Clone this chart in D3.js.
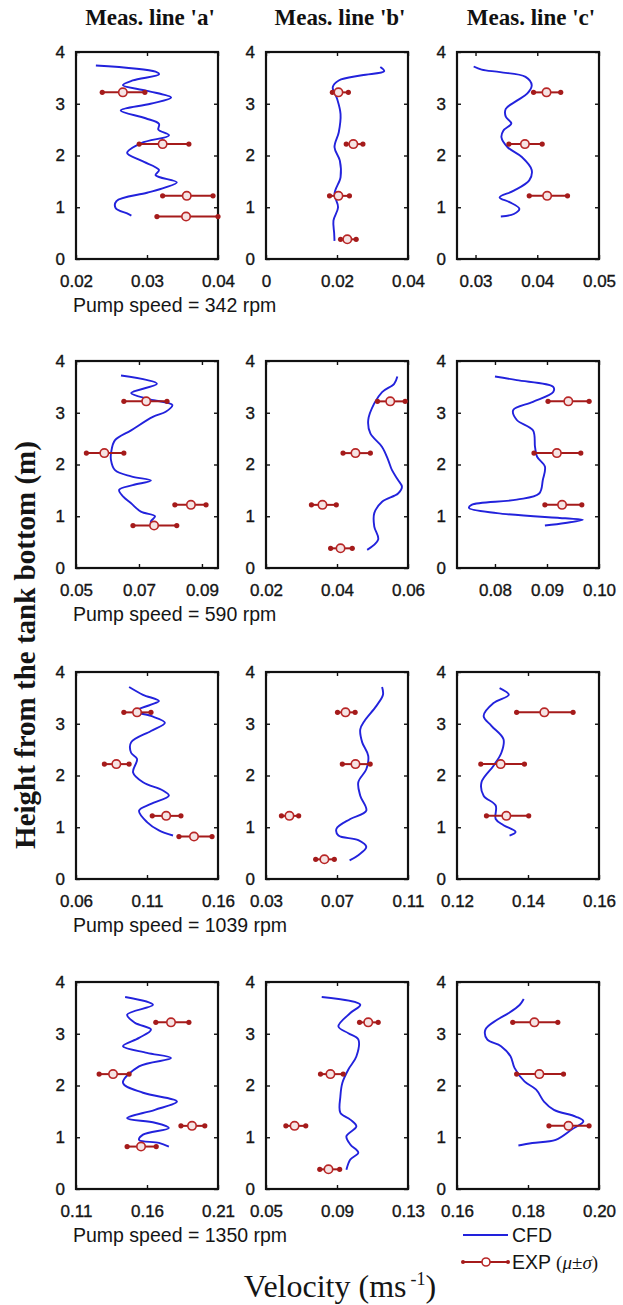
<!DOCTYPE html>
<html lang="en">
<head>
  <meta charset="UTF-8">
  <title>Velocity profiles</title>
  <script src="https://cdn.jsdelivr.net/npm/d3@7"></script>
  <style>
    * { margin: 0; padding: 0; }
    body { background: #fff; }
    svg { display: block; }
    .tick text { font-family: "Liberation Sans", Arial, sans-serif; font-size: 17px; fill: #151515; stroke: #151515; stroke-width: 0.35; }
    .tick line { stroke: #111; stroke-width: 1.4; }
  </style>
</head>
<body>
<div id="chart"></div>
<script>
// rows = pump speed, columns = measurement line
var pumpSpeeds = [342, 590, 1039, 1350];
var measLines = ["a", "b", "c"];
var heightTicks = [0, 1, 2, 3, 4];

// x domains per panel
var xDomains = [
  [[0.02, 0.04], [0, 0.04], [0.027, 0.05]],
  [[0.05, 0.0951], [0.02, 0.06], [0.0727, 0.1]],
  [[0.06, 0.16], [0.03, 0.11], [0.12, 0.16]],
  [[0.11, 0.21], [0.05, 0.13], [0.16, 0.20]]
];
var xTicks = [
  [[0.02, 0.03, 0.04], [0, 0.02, 0.04], [0.03, 0.04, 0.05]],
  [[0.05, 0.07, 0.09], [0.02, 0.04, 0.06], [0.08, 0.09, 0.10]],
  [[0.06, 0.11, 0.16], [0.03, 0.07, 0.11], [0.12, 0.14, 0.16]],
  [[0.11, 0.16, 0.21], [0.05, 0.09, 0.13], [0.16, 0.18, 0.20]]
];
var xTickLabels = [
  [["0.02", "0.03", "0.04"], ["0", "0.02", "0.04"], ["0.03", "0.04", "0.05"]],
  [["0.05", "0.07", "0.09"], ["0.02", "0.04", "0.06"], ["0.08", "0.09", "0.10"]],
  [["0.06", "0.11", "0.16"], ["0.03", "0.07", "0.11"], ["0.12", "0.14", "0.16"]],
  [["0.11", "0.16", "0.21"], ["0.05", "0.09", "0.13"], ["0.16", "0.18", "0.20"]]
];

// CFD profiles: [height (m), velocity (m/s)]
var cfd342a = [[3.74,0.0228],[3.62,0.0312],[3.57,0.0317],[3.45,0.0280],[3.36,0.0266],[3.25,0.0300],[3.12,0.0334],[3.00,0.0305],[2.87,0.0263],[2.72,0.0298],[2.61,0.0317],[2.50,0.0316],[2.39,0.0331],[2.24,0.0292],[2.05,0.0272],[1.90,0.0292],[1.72,0.0317],[1.62,0.0312],[1.48,0.0342],[1.38,0.0325],[1.28,0.0300],[1.12,0.0257],[0.98,0.0256],[0.88,0.0272],[0.84,0.0278]];
var cfd342b = [[3.71,0.0322],[3.63,0.0333],[3.55,0.0270],[3.45,0.0205],[3.32,0.0188],[3.10,0.0200],[2.80,0.0210],[2.45,0.0205],[2.16,0.0193],[1.90,0.0208],[1.58,0.0210],[1.26,0.0193],[1.00,0.0203],[0.74,0.0190],[0.50,0.0192],[0.35,0.0193]];
var cfd342c = [[3.72,0.0297],[3.66,0.0310],[3.61,0.0340],[3.52,0.0381],[3.36,0.0391],[3.20,0.0384],[3.06,0.0367],[2.90,0.0349],[2.75,0.0349],[2.62,0.0358],[2.48,0.0345],[2.35,0.0342],[2.16,0.0352],[1.97,0.0375],[1.72,0.0391],[1.52,0.0387],[1.32,0.0362],[1.19,0.0339],[1.10,0.0355],[0.97,0.0371],[0.87,0.0362],[0.82,0.0341]];
var cfd590a = [[3.72,0.0643],[3.56,0.0757],[3.38,0.0675],[3.26,0.0735],[3.15,0.0806],[3.02,0.0785],[2.92,0.0744],[2.66,0.0675],[2.47,0.0624],[2.25,0.0612],[2.09,0.0611],[1.89,0.0624],[1.77,0.0675],[1.69,0.0738],[1.60,0.0680],[1.51,0.0637],[1.38,0.0650],[1.25,0.0675],[1.09,0.0706],[1.00,0.0751],[0.90,0.0738],[0.83,0.0738]];
var cfd590b = [[3.70,0.0570],[3.56,0.0561],[3.40,0.0527],[3.18,0.0505],[2.86,0.0488],[2.60,0.0494],[2.34,0.0527],[2.09,0.0544],[1.89,0.0555],[1.70,0.0572],[1.57,0.0583],[1.44,0.0572],[1.28,0.0527],[1.06,0.0505],[0.80,0.0505],[0.55,0.0516],[0.35,0.0485]];
var cfd590c = [[3.70,0.0800],[3.63,0.0842],[3.50,0.0912],[3.40,0.0912],[3.21,0.0873],[3.05,0.0835],[2.86,0.0842],[2.66,0.0873],[2.34,0.0877],[2.15,0.0881],[1.96,0.0896],[1.70,0.0892],[1.44,0.0885],[1.32,0.0842],[1.22,0.0755],[1.16,0.0750],[1.06,0.0804],[0.96,0.0935],[0.93,0.0969],[0.87,0.0935],[0.82,0.0896]];
var cfd1039a = [[3.71,0.0974],[3.56,0.1072],[3.44,0.1184],[3.37,0.1128],[3.24,0.1016],[3.15,0.1128],[3.02,0.1226],[2.86,0.1128],[2.64,0.0988],[2.44,0.0988],[2.32,0.1030],[2.06,0.1002],[1.87,0.1072],[1.71,0.1212],[1.61,0.1254],[1.45,0.1128],[1.32,0.1044],[1.10,0.1100],[0.94,0.1184],[0.84,0.1283]];
var cfd1039b = [[3.71,0.0954],[3.56,0.0959],[3.34,0.0921],[3.05,0.0854],[2.89,0.0831],[2.64,0.0842],[2.38,0.0876],[2.12,0.0865],[1.87,0.0820],[1.61,0.0831],[1.32,0.0865],[1.16,0.0775],[0.97,0.0697],[0.84,0.0708],[0.75,0.0820],[0.62,0.0865],[0.46,0.0820],[0.36,0.0771]];
var cfd1039c = [[3.69,0.1320],[3.56,0.1346],[3.40,0.1303],[3.15,0.1275],[2.96,0.1297],[2.70,0.1331],[2.44,0.1325],[2.19,0.1303],[1.87,0.1269],[1.61,0.1275],[1.42,0.1309],[1.16,0.1309],[1.04,0.1331],[0.91,0.1365],[0.84,0.1348]];
var cfd1350a = [[3.71,0.1446],[3.56,0.1642],[3.37,0.1460],[3.21,0.1516],[3.08,0.1628],[2.92,0.1544],[2.76,0.1431],[2.63,0.1600],[2.53,0.1769],[2.37,0.1544],[2.05,0.1431],[1.86,0.1572],[1.69,0.1811],[1.53,0.1656],[1.37,0.1460],[1.28,0.1656],[1.18,0.1754],[1.05,0.1572],[0.95,0.1544],[0.89,0.1684],[0.82,0.1754]];
var cfd1350b = [[3.71,0.0814],[3.56,0.1031],[3.40,0.0975],[3.14,0.0908],[3.01,0.0964],[2.89,0.1020],[2.56,0.1009],[2.31,0.0964],[2.05,0.0930],[1.79,0.0919],[1.47,0.0919],[1.34,0.0975],[1.21,0.1009],[1.02,0.0953],[0.86,0.0975],[0.70,0.1020],[0.57,0.0975],[0.37,0.0953]];
var cfd1350c = [[3.67,0.1788],[3.56,0.1777],[3.40,0.1746],[3.27,0.1713],[3.08,0.1680],[2.89,0.1685],[2.76,0.1724],[2.56,0.1751],[2.34,0.1762],[2.08,0.1790],[1.92,0.1823],[1.69,0.1845],[1.53,0.1873],[1.40,0.1934],[1.31,0.1956],[1.15,0.1923],[0.95,0.1878],[0.89,0.1812],[0.84,0.1773]];

// EXP: [height, mean, mean - sd, mean + sd]
var exp342a = [[3.22,0.0266,0.0237,0.0297],[2.22,0.0322,0.0289,0.0359],[1.22,0.0356,0.0322,0.0393],[0.82,0.0355,0.0314,0.0400]];
var exp342b = [[3.22,0.0204,0.0187,0.0232],[2.22,0.0246,0.0226,0.0273],[1.22,0.0204,0.0179,0.0235],[0.38,0.0229,0.0210,0.0254]];
var exp342c = [[3.22,0.0415,0.0394,0.0438],[2.22,0.0380,0.0354,0.0408],[1.22,0.0416,0.0387,0.0449]];
var exp590a = [[3.22,0.0723,0.0652,0.0789],[2.22,0.0590,0.0533,0.0652],[1.22,0.0865,0.0814,0.0913],[0.82,0.0748,0.0681,0.0820]];
var exp590b = [[3.22,0.0550,0.0514,0.0592],[2.22,0.0452,0.0417,0.0494],[1.22,0.0359,0.0328,0.0398],[0.38,0.0410,0.0382,0.0443]];
var exp590c = [[3.22,0.0941,0.0902,0.0981],[2.22,0.0919,0.0875,0.0965],[1.22,0.0929,0.0896,0.0967]];
var exp1039a = [[3.22,0.1030,0.0937,0.1128],[2.22,0.0884,0.0800,0.0974],[1.22,0.1235,0.1137,0.1339],[0.82,0.1431,0.1325,0.1558]];
var exp1039b = [[3.22,0.0748,0.0703,0.0802],[2.22,0.0804,0.0730,0.0887],[1.22,0.0432,0.0387,0.0484],[0.38,0.0629,0.0580,0.0685]];
var exp1039c = [[3.22,0.1446,0.1368,0.1527],[2.22,0.1323,0.1267,0.1390],[1.22,0.1339,0.1283,0.1402]];
var exp1350a = [[3.22,0.1769,0.1662,0.1895],[2.22,0.1361,0.1263,0.1474],[1.22,0.1917,0.1839,0.2007],[0.82,0.1558,0.1460,0.1665]];
var exp1350b = [[3.22,0.1076,0.1027,0.1132],[2.22,0.0863,0.0807,0.0935],[1.22,0.0661,0.0612,0.0724],[0.38,0.0852,0.0803,0.0915]];
var exp1350c = [[3.22,0.1818,0.1757,0.1884],[2.22,0.1832,0.1768,0.1900],[1.22,0.1914,0.1859,0.1972]];

var cfdData = [
  [cfd342a, cfd342b, cfd342c],
  [cfd590a, cfd590b, cfd590c],
  [cfd1039a, cfd1039b, cfd1039c],
  [cfd1350a, cfd1350b, cfd1350c]
];
var expData = [
  [exp342a, exp342b, exp342c],
  [exp590a, exp590b, exp590c],
  [exp1039a, exp1039b, exp1039c],
  [exp1350a, exp1350b, exp1350c]
];

var width = 623, height = 1305;
var colX = [76, 266, 457], panelW = 142;
var rowY = [52, 361, 672, 982], panelH = 207;
var blue = "#2222dc", red = "#a51b1b";

var svg = d3.select("#chart").append("svg")
    .attr("width", width)
    .attr("height", height);

// column titles
svg.selectAll(".coltitle")
  .data(measLines)
  .enter()
  .append("text")
    .attr("class", "coltitle")
    .attr("x", function (d, i) { return colX[i] + panelW / 2 + 3; })
    .attr("y", 25)
    .attr("text-anchor", "middle")
    .style("font-family", "'Liberation Serif', 'Times New Roman', serif")
    .style("font-weight", "bold")
    .style("font-size", "23px")
    .attr("fill", "#111")
    .text(function (d) { return "Meas. line '" + d + "'"; });

var line = d3.line().curve(d3.curveCatmullRom.alpha(0.5));

pumpSpeeds.forEach(function (speed, r) {
  measLines.forEach(function (m, c) {
    var g = svg.append("g")
        .attr("transform", "translate(" + colX[c] + "," + rowY[r] + ")");
    var x = d3.scaleLinear().domain(xDomains[r][c]).range([0, panelW]);
    var y = d3.scaleLinear().domain([0, 4]).range([panelH, 0]);

    // axes, ticks pointing inwards
    g.append("g")
      .attr("transform", "translate(0," + panelH + ")")
      .call(d3.axisBottom(x).tickValues(xTicks[r][c]).tickSizeInner(-4).tickSizeOuter(0).tickPadding(16)
        .tickFormat(function (d, i) { return xTickLabels[r][c][i]; }));
    g.append("g")
      .call(d3.axisTop(x).tickValues(xTicks[r][c]).tickSizeInner(-4).tickSizeOuter(0).tickFormat(""));
    g.append("g")
      .call(d3.axisLeft(y).tickValues(heightTicks).tickSizeInner(-4).tickSizeOuter(0).tickPadding(11)
        .tickFormat(d3.format("d")));
    g.append("g")
      .attr("transform", "translate(" + panelW + ",0)")
      .call(d3.axisRight(y).tickValues(heightTicks).tickSizeInner(-4).tickSizeOuter(0).tickFormat(""));
    g.selectAll(".domain").remove();

    g.append("rect")
      .attr("width", panelW)
      .attr("height", panelH)
      .attr("fill", "none")
      .attr("stroke", "#111")
      .attr("stroke-width", 2.2);

    // CFD
    line.x(function (d) { return x(d[1]); }).y(function (d) { return y(d[0]); });
    g.append("path")
      .attr("d", line(cfdData[r][c]))
      .attr("fill", "none")
      .attr("stroke", blue)
      .attr("stroke-width", 1.9);

    // EXP mean +- sd
    var e = g.selectAll(".exp")
      .data(expData[r][c])
      .enter()
      .append("g")
        .attr("class", "exp");
    e.append("line")
      .attr("x1", function (d) { return x(d[2]); })
      .attr("x2", function (d) { return x(d[3]); })
      .attr("y1", function (d) { return y(d[0]); })
      .attr("y2", function (d) { return y(d[0]); })
      .attr("stroke", red)
      .attr("stroke-width", 2);
    e.append("circle")
      .attr("cx", function (d) { return x(d[2]); })
      .attr("cy", function (d) { return y(d[0]); })
      .attr("r", 2.6)
      .attr("fill", red);
    e.append("circle")
      .attr("cx", function (d) { return x(d[3]); })
      .attr("cy", function (d) { return y(d[0]); })
      .attr("r", 2.6)
      .attr("fill", red);
    e.append("circle")
      .attr("cx", function (d) { return x(d[1]); })
      .attr("cy", function (d) { return y(d[0]); })
      .attr("r", 4.2)
      .attr("fill", "#f6e4e4")
      .attr("stroke", "#b82626")
      .attr("stroke-width", 1.6);
  });

  svg.append("text")
    .attr("x", 73)
    .attr("y", rowY[r] + panelH + 53)
    .style("font-family", "'Liberation Sans', Arial, sans-serif")
    .style("font-size", "19.5px")
    .attr("fill", "#151515")
    .text("Pump speed = " + speed + " rpm");
});

// y title
svg.append("text")
  .attr("transform", "translate(35,645) rotate(-90)")
  .attr("text-anchor", "middle")
  .style("font-family", "'Liberation Serif', 'Times New Roman', serif")
  .style("font-weight", "bold")
  .style("font-size", "29px")
  .attr("fill", "#151515")
  .text("Height from the tank bottom (m)");

// x title
var xt = svg.append("text")
  .attr("x", 340)
  .attr("y", 1297)
  .attr("text-anchor", "middle")
  .style("font-family", "'Liberation Serif', 'Times New Roman', serif")
  .style("font-size", "32px")
  .attr("fill", "#151515");
xt.append("tspan").text("Velocity (ms");
xt.append("tspan").attr("dx", 4).attr("dy", -12).style("font-size", "18px").text("-1");
xt.append("tspan").attr("dy", 12).text(")");

// legend
var lg = svg.append("g").attr("transform", "translate(463,1235)");
lg.append("line").attr("x1", 0).attr("x2", 45).attr("stroke", blue).attr("stroke-width", 2.2);
lg.append("text").attr("x", 49).attr("y", 7)
  .style("font-family", "'Liberation Sans', Arial, sans-serif").style("font-size", "19.5px")
  .attr("fill", "#151515").text("CFD");
var le = lg.append("g").attr("transform", "translate(0,27)");
le.append("line").attr("x1", 0).attr("x2", 45).attr("stroke", red).attr("stroke-width", 2);
le.append("circle").attr("cx", 0).attr("r", 2).attr("fill", red);
le.append("circle").attr("cx", 45).attr("r", 2).attr("fill", red);
le.append("circle").attr("cx", 23).attr("r", 4).attr("fill", "#fff").attr("stroke", "#b82626").attr("stroke-width", 1.6);
var lt = le.append("text").attr("x", 49).attr("y", 7)
  .style("font-family", "'Liberation Sans', Arial, sans-serif").style("font-size", "19.5px")
  .attr("fill", "#151515");
lt.append("tspan").text("EXP ");
lt.append("tspan").style("font-family", "'Liberation Serif', serif").style("font-size", "19px").text("(");
lt.append("tspan").style("font-family", "'Liberation Serif', serif").style("font-size", "19px").style("font-style", "italic").text("μ");
lt.append("tspan").style("font-family", "'Liberation Serif', serif").style("font-size", "19px").text("±");
lt.append("tspan").style("font-family", "'Liberation Serif', serif").style("font-size", "19px").style("font-style", "italic").text("σ");
lt.append("tspan").style("font-family", "'Liberation Serif', serif").style("font-size", "19px").text(")");
</script>
</body>
</html>
